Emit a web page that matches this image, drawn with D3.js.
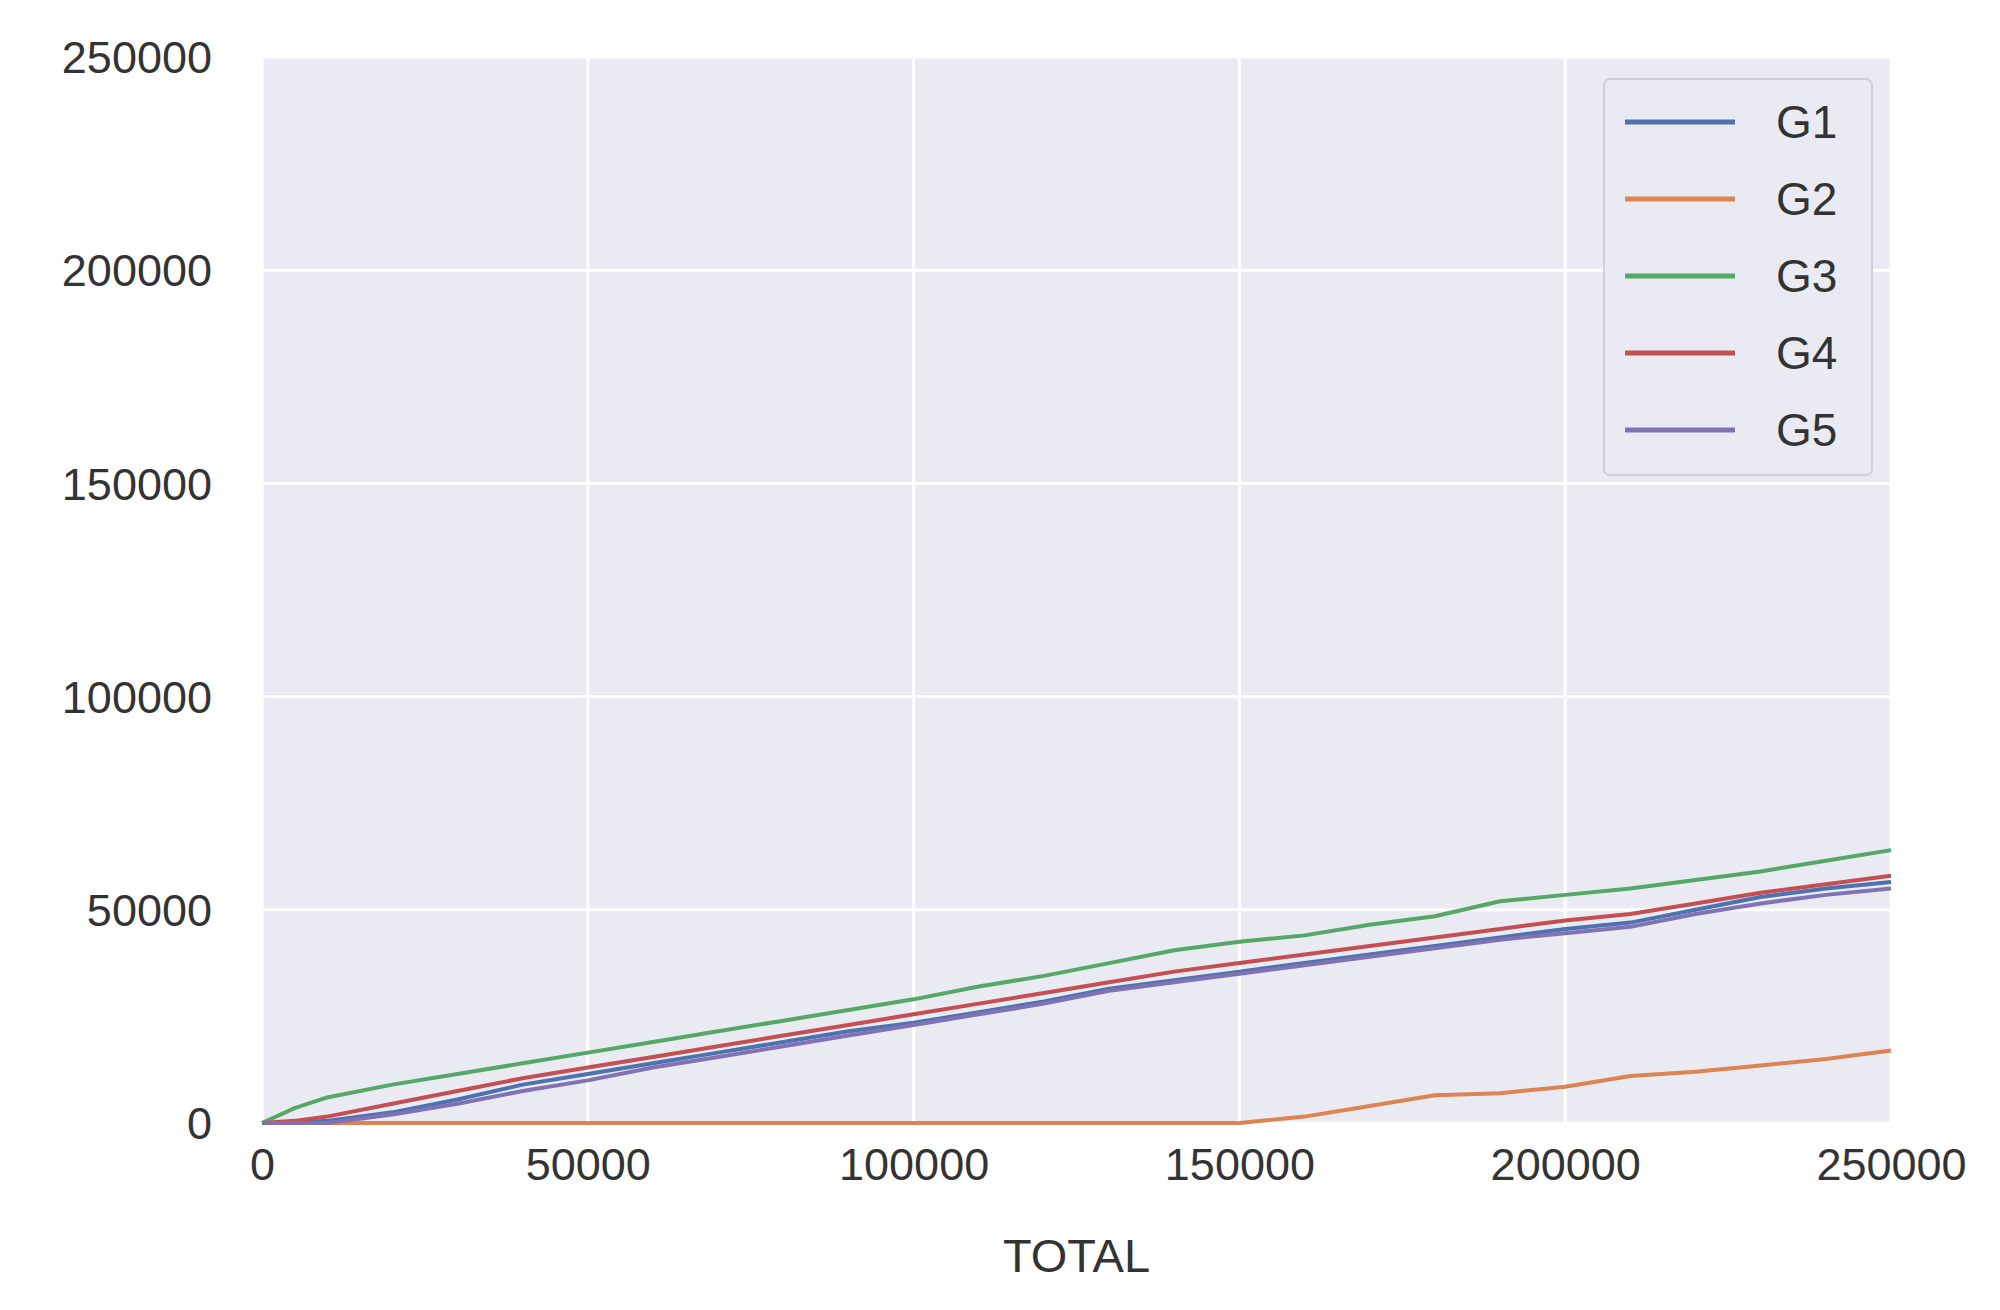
<!DOCTYPE html>
<html><head><meta charset="utf-8">
<script src="https://cdn.jsdelivr.net/npm/d3@7"></script>
<style>body{margin:0;background:#fff}</style>
</head><body>
<svg id="chart" width="2000" height="1310"></svg>
<script>
// x positions of the samples (TOTAL)
const totals = [0, 5000, 10000, 20000, 30000, 40000, 50000, 60000, 70000, 80000, 90000, 100000, 110000,
    120000, 130000, 140000, 150000, 160000, 170000, 180000, 190000, 200000, 210000, 220000, 230000, 240000, 250000];

const g1 = [0, 0, 500, 2500, 5500, 9000, 11500, 14000, 16500, 19000, 21500, 23500, 26000,
    28500, 31500, 33500, 35500, 37500, 39500, 41500, 43500, 45500, 47000, 50000, 53000, 55000, 56500];
const g2 = [0, 0, 0, 0, 0, 0, 0, 0, 0, 0, 0, 0, 0,
    0, 0, 0, 0, 1500, 4000, 6500, 7000, 8500, 11000, 12000, 13500, 15000, 17000];
const g3 = [0, 3500, 6000, 9000, 11500, 14000, 16500, 19000, 21500, 24000, 26500, 29000, 32000,
    34500, 37500, 40500, 42500, 44000, 46500, 48500, 52000, 53500, 55000, 57000, 59000, 61500, 64000];
const g4 = [0, 500, 1500, 4500, 7500, 10500, 13000, 15500, 18000, 20500, 23000, 25500, 28000,
    30500, 33000, 35500, 37500, 39500, 41500, 43500, 45500, 47500, 49000, 51500, 54000, 56000, 58000];
const g5 = [0, 0, 0, 2000, 4500, 7500, 10000, 13000, 15500, 18000, 20500, 23000, 25500,
    28000, 31000, 33000, 35000, 37000, 39000, 41000, 43000, 44500, 46000, 49000, 51500, 53500, 55000];

const names = ["G1", "G2", "G3", "G4", "G5"];
const colors = ["#4c72b0", "#dd8452", "#55a868", "#c44e52", "#8172b3"];
const seriesValues = [g1, g2, g3, g4, g5];
const xTicks = [0, 50000, 100000, 150000, 200000, 250000];
const yTicks = [0, 50000, 100000, 150000, 200000, 250000];

const svg = d3.select("#chart");
const plotL = 262, plotR = 1891, plotT = 57, plotB = 1123;

const x = d3.scaleLinear().domain([0, 250000]).range([plotL, plotR]);
const y = d3.scaleLinear().domain([0, 250000]).range([plotB, plotT]);

svg.append("rect")
    .attr("x", plotL).attr("y", plotT)
    .attr("width", plotR - plotL).attr("height", plotB - plotT)
    .attr("fill", "#eaeaf2");

// grid
svg.append("g").selectAll("line").data(xTicks).join("line")
    .attr("x1", d => x(d)).attr("x2", d => x(d))
    .attr("y1", plotT).attr("y2", plotB)
    .attr("stroke", "#fff").attr("stroke-width", 3);
svg.append("g").selectAll("line").data(yTicks).join("line")
    .attr("y1", d => y(d)).attr("y2", d => y(d))
    .attr("x1", plotL).attr("x2", plotR)
    .attr("stroke", "#fff").attr("stroke-width", 3);

// axes (labels only, seaborn style)
const font = "'Liberation Sans', Arial, sans-serif";
const xAxis = svg.append("g").attr("transform", `translate(0,${plotB + 22})`)
    .call(d3.axisBottom(x).tickValues(xTicks).tickSize(0).tickFormat(d3.format("d")));
const yAxis = svg.append("g").attr("transform", `translate(${plotL - 50},0)`)
    .call(d3.axisLeft(y).tickValues(yTicks).tickSize(0).tickFormat(d3.format("d")));
[xAxis, yAxis].forEach(a => {
    a.select(".domain").remove();
    a.selectAll("text").attr("font-family", font).attr("font-size", 45).attr("fill", "#333");
});
yAxis.selectAll("text").attr("dy", "0.35em").attr("x", 0);

svg.append("text")
    .attr("x", (plotL + plotR) / 2).attr("y", 1272)
    .attr("text-anchor", "middle")
    .attr("font-family", font).attr("font-size", 47).attr("fill", "#333")
    .text("TOTAL");

// lines
const line = d3.line()
    .x((d, i) => x(totals[i]))
    .y(d => y(d));
svg.append("g").selectAll("path").data(seriesValues).join("path")
    .attr("d", d => line(d))
    .attr("fill", "none")
    .attr("stroke", (d, i) => colors[i])
    .attr("stroke-width", 4)
    .attr("stroke-linejoin", "round");

// legend
const lg = svg.append("g").attr("transform", "translate(1604,79)");
lg.append("rect")
    .attr("width", 268).attr("height", 396).attr("rx", 6)
    .attr("fill", "#eaeaf2").attr("stroke", "#d0d0d8").attr("stroke-width", 2);
const items = lg.selectAll("g.item").data(names).join("g")
    .attr("transform", (d, i) => `translate(0,${43 + i * 77})`);
items.append("line")
    .attr("x1", 21).attr("x2", 131)
    .attr("stroke", (d, i) => colors[i]).attr("stroke-width", 5);
items.append("text")
    .attr("x", 172).attr("dy", "0.35em")
    .attr("font-family", font).attr("font-size", 46).attr("fill", "#333")
    .text(d => d);
</script>
</body></html>
